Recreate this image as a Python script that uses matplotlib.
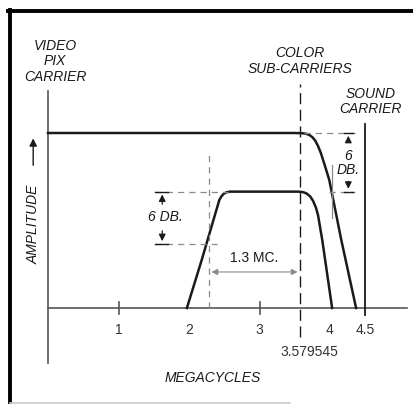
import matplotlib.pyplot as plt
from matplotlib.lines import Line2D

plt.rcParams['font.family'] = ['Liberation Sans', 'DejaVu Sans']

# frequency in megacycles, relative amplitude
luma_mc = [0.0, 3.50, 3.60, 3.66, 3.71, 3.75, 3.79, 3.83, 3.87, 3.93, 3.99, 4.16, 4.37]
luma_amp = [1.0, 1.0, 0.999, 0.996, 0.988, 0.976, 0.957, 0.926, 0.886, 0.81, 0.731, 0.389, 0.0]

chroma_mc = [1.97, 2.18, 2.43, 2.46, 2.49, 2.53, 2.58, 3.55, 3.62, 3.67, 3.72, 3.76, 3.80, 3.83, 3.89, 4.03]
chroma_amp = [0.0, 0.274, 0.617, 0.638, 0.652, 0.661, 0.665, 0.665, 0.662, 0.654, 0.637, 0.612, 0.574, 0.531, 0.389, 0.0]

tick_mc = [1, 2, 3, 4, 4.5]
tick_text = ["1", "2", "3", "4", "4.5"]
subcarrier = 3.579545
sound_carrier = 4.5
chroma_width = 1.3
flat_level = 1.0
chroma_level = 0.665
left_db_low = 0.366

fig = plt.figure(figsize=(4.14, 4.05), dpi=100)
ax = fig.add_axes([0, 0, 1, 1])
ax.set_xlim(-48 / 70.5, (414 - 48) / 70.5)
ax.set_ylim((308 - 405) / 175, 308 / 175)
ax.axis('off')

ink = '#1a1a1a'
grey = '#8a8a8a'
fs = 10

# page border
fig.add_artist(Line2D([8 / 414, 1], [1 - 11 / 405, 1 - 11 / 405], color='black', lw=2.8))
fig.add_artist(Line2D([10 / 414, 10 / 414], [1 - 10 / 405, 1 - 402 / 405], color='black', lw=2.8))
fig.add_artist(Line2D([10 / 414, 290 / 414], [1 - 403 / 405, 1 - 403 / 405], color='#cccccc', lw=1.2))

# axes
ax.plot([0, 0], [-0.314, 1.24], color='#555555', lw=1.2)
ax.plot([0, 5.09], [0, 0], color='#555555', lw=1.2)
for t in [1, 3]:
    ax.plot([t, t], [-0.035, 0.035], color='#555555', lw=1.2)
for t, s in zip(tick_mc, tick_text):
    ax.text(t, -0.126, s, ha='center', va='center', fontsize=fs, color='#333333')

# carriers
ax.plot([sound_carrier, sound_carrier], [-0.04, 1.05], color=ink, lw=1.3)
ax.plot([subcarrier, subcarrier], [-0.166, 1.28], color=ink, lw=1.0, dashes=(8, 4))
ax.text(subcarrier + 0.13, -0.251, "3.579545", ha='center', va='center', fontsize=fs, color='#333333')

# response curves
ax.plot(luma_mc, luma_amp, color=ink, lw=1.8, solid_joinstyle='round')
ax.plot(chroma_mc, chroma_amp, color=ink, lw=1.8, solid_joinstyle='round')

# 1.3 MC dimension
left_edge = subcarrier - chroma_width
ax.plot([left_edge, left_edge], [0, 0.874], color=grey, lw=0.9, dashes=(5, 4))
ax.annotate("", xy=(left_edge, 0.206), xytext=(subcarrier, 0.206),
            arrowprops=dict(arrowstyle='<|-|>', color=grey, lw=0.8, mutation_scale=9))
ax.text((left_edge + subcarrier) / 2, 0.286, "1.3 MC.", ha='center', va='center',
        fontsize=fs, color=ink)

# left 6 db dimension
ax.plot([1.52, 2.56], [chroma_level, chroma_level], color=grey, lw=0.9, dashes=(5, 4))
ax.plot([1.52, 2.40], [left_db_low, left_db_low], color=grey, lw=0.9, dashes=(5, 4))
for lv in [chroma_level, left_db_low]:
    ax.plot([1.52, 1.70], [lv, lv], color=ink, lw=1.0)
ax.annotate("", xy=(1.62, chroma_level), xytext=(1.62, 0.577),
            arrowprops=dict(arrowstyle='-|>', color=ink, lw=0.9, mutation_scale=10))
ax.annotate("", xy=(1.62, left_db_low), xytext=(1.62, 0.457),
            arrowprops=dict(arrowstyle='-|>', color=ink, lw=0.9, mutation_scale=10))
ax.text(1.67, 0.52, "6 DB.", ha='center', va='center', fontsize=fs, style='italic', color=ink)

# right 6 db dimension
ax.plot([3.63, 4.35], [flat_level, flat_level], color=grey, lw=0.9, dashes=(5, 4))
ax.plot([3.98, 4.35], [chroma_level, chroma_level], color=grey, lw=0.9, dashes=(5, 4))
for lv in [flat_level, chroma_level]:
    ax.plot([4.20, 4.32], [lv, lv], color=ink, lw=1.0)
ax.annotate("", xy=(4.26, flat_level), xytext=(4.26, 0.93),
            arrowprops=dict(arrowstyle='-|>', color=ink, lw=0.9, mutation_scale=10))
ax.annotate("", xy=(4.26, chroma_level), xytext=(4.26, 0.74),
            arrowprops=dict(arrowstyle='-|>', color=ink, lw=0.9, mutation_scale=10))
ax.plot([4.03, 4.03], [0.514, 0.817], color=grey, lw=0.9)
ax.text(4.26, 0.87, "6", ha='center', va='center', fontsize=fs, style='italic', color=ink)
ax.text(4.26, 0.79, "DB.", ha='center', va='center', fontsize=fs, style='italic', color=ink)

# captions
ax.text(0.1, 1.41, "VIDEO\nPIX\nCARRIER", ha='center', va='center', fontsize=fs,
        style='italic', color=ink, linespacing=1.15)
ax.text(3.57, 1.41, "COLOR\nSUB-CARRIERS", ha='center', va='center', fontsize=fs,
        style='italic', color=ink, linespacing=1.15)
ax.text(4.57, 1.18, "SOUND\nCARRIER", ha='center', va='center', fontsize=fs,
        style='italic', color=ink, linespacing=1.15)
ax.text(2.33, -0.40, "MEGACYCLES", ha='center', va='center', fontsize=fs,
        style='italic', color=ink)
ax.text(-0.21, 0.48, "AMPLITUDE", ha='center', va='center', fontsize=fs,
        style='italic', color=ink, rotation=90)
ax.annotate("", xy=(-0.21, 0.985), xytext=(-0.21, 0.80),
            arrowprops=dict(arrowstyle='-|>', color=ink, lw=1.0, mutation_scale=11))

fig.savefig("out.png", dpi=100)
